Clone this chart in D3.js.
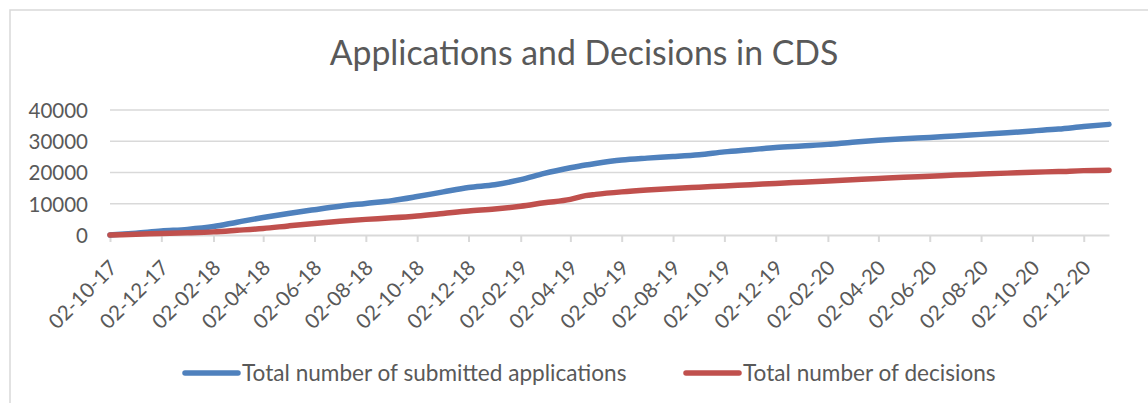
<!DOCTYPE html>
<html>
<head>
<meta charset="utf-8">
<script src="https://cdn.jsdelivr.net/npm/d3@7"></script>
<style>
  body { margin: 0; background: #fff; }
  text { font-family: Lato, "Open Sans", sans-serif; fill: #595959; }
</style>
</head>
<body>
<svg id="chart"></svg>
<script>
// data
const dates = [
  "2017-10-02", "2017-11-02", "2017-12-02", "2018-01-02", "2018-02-02", "2018-03-02",
  "2018-04-02", "2018-05-02", "2018-06-02", "2018-07-02", "2018-08-02", "2018-09-02",
  "2018-10-02", "2018-11-02", "2018-12-02", "2019-01-02", "2019-02-02", "2019-03-02",
  "2019-04-02", "2019-04-20", "2019-05-02", "2019-06-02", "2019-07-02", "2019-08-02",
  "2019-09-02", "2019-10-02", "2019-11-02", "2019-12-02", "2020-01-02", "2020-02-02",
  "2020-03-02", "2020-04-02", "2020-05-02", "2020-06-02", "2020-07-02", "2020-08-02",
  "2020-09-02", "2020-10-02", "2020-11-02", "2020-12-02", "2021-01-01"
];
const applications = [
  0, 600, 1300, 1800, 2700, 4100, 5600, 6900, 8100, 9200, 10100, 11000,
  12300, 13800, 15200, 16100, 17700, 19700, 21500, 22400, 22900, 24000, 24600, 25100,
  25700, 26600, 27300, 28000, 28500, 29000, 29700, 30300, 30800, 31200, 31700, 32200,
  32700, 33300, 33900, 34700, 35400
];
const decisions = [
  0, 250, 500, 700, 1000, 1500, 2100, 2900, 3700, 4400, 5000, 5500,
  6100, 6900, 7700, 8300, 9200, 10300, 11400, 12600, 13000, 13800, 14400, 14900,
  15300, 15700, 16100, 16500, 16900, 17300, 17700, 18100, 18500, 18800, 19200, 19500,
  19800, 20100, 20300, 20600, 20700
];
const tickLabels = [
  "02-10-17", "02-12-17", "02-02-18", "02-04-18", "02-06-18", "02-08-18", "02-10-18",
  "02-12-18", "02-02-19", "02-04-19", "02-06-19", "02-08-19", "02-10-19", "02-12-19",
  "02-02-20", "02-04-20", "02-06-20", "02-08-20", "02-10-20", "02-12-20"
];
const yTicks = [0, 10000, 20000, 30000, 40000];
const seriesNames = ["Total number of submitted applications", "Total number of decisions"];
const colors = ["#4F81BD", "#C0504D"];

const width = 1148, height = 403;
const margin = { left: 110, right: 39, top: 110, bottom: 168 };

const parseDate = d3.timeParse("%Y-%m-%d");
const parseTick = d3.timeParse("%d-%m-%y");

const svg = d3.select("#chart")
    .attr("width", width)
    .attr("height", height);

// outer frame of the chart area (cut off at right and bottom)
svg.append("rect")
    .attr("x", 10).attr("y", 10)
    .attr("width", 1200).attr("height", 500)
    .attr("fill", "none")
    .attr("stroke", "#D9D9D9")
    .attr("stroke-width", 1.5);

const xScale = d3.scaleTime()
    .domain([parseDate(dates[0]), parseDate(dates[dates.length - 1])])
    .range([margin.left, width - margin.right]);

const yScale = d3.scaleLinear()
    .domain([0, 40000])
    .range([height - margin.bottom, margin.top]);

// gridlines
svg.append("g")
    .selectAll("line")
    .data(yTicks.slice(1))
    .join("line")
        .attr("x1", margin.left)
        .attr("x2", width - margin.right)
        .attr("y1", d => yScale(d))
        .attr("y2", d => yScale(d))
        .attr("stroke", "#D9D9D9")
        .attr("stroke-width", 1.5);

// y axis labels
const yAxis = svg.append("g")
    .attr("transform", `translate(${margin.left}, 0)`)
    .call(d3.axisLeft(yScale).tickValues(yTicks).tickSize(0).tickPadding(22).tickFormat(d3.format("d")));
yAxis.select(".domain").remove();
yAxis.selectAll("text")
    .attr("font-size", 20.5)
    .attr("dy", "0.36em")
    .style("font-family", "Lato, sans-serif");

// x axis
const tickDates = tickLabels.map(parseTick);
const xAxis = svg.append("g")
    .attr("transform", `translate(0, ${yScale(0)})`)
    .call(d3.axisBottom(xScale)
        .tickValues(tickDates)
        .tickSize(7)
        .tickSizeOuter(0)
        .tickFormat((d, i) => tickLabels[i]));
xAxis.select(".domain")
    .attr("stroke", "#D9D9D9")
    .attr("stroke-width", 2);
xAxis.selectAll(".tick line")
    .attr("stroke", "#D9D9D9")
    .attr("stroke-width", 2);
xAxis.selectAll(".tick text")
    .attr("font-size", 20.5)
    .attr("text-anchor", "end")
    .attr("y", 0)
    .attr("dy", 0)
    .attr("transform", "translate(8, 34) rotate(-45)")
    .style("font-family", "Lato, sans-serif");

// lines
const line = d3.line()
    .x((d, i) => xScale(parseDate(dates[i])))
    .y(d => yScale(d))
    .curve(d3.curveMonotoneX);

[applications, decisions].forEach((values, k) => {
    svg.append("path")
        .datum(values)
        .attr("fill", "none")
        .attr("stroke", colors[k])
        .attr("stroke-width", 5.5)
        .attr("stroke-linecap", "round")
        .attr("stroke-linejoin", "round")
        .attr("d", line);
});

// title
svg.append("text")
    .attr("x", 584)
    .attr("y", 65)
    .attr("text-anchor", "middle")
    .attr("font-size", 33.8)
    .text("Applications and Decisions in CDS");

// legend
const legendX = [183, 684];
const legend = svg.append("g");
seriesNames.forEach((name, k) => {
    legend.append("line")
        .attr("x1", legendX[k] + 2)
        .attr("x2", legendX[k] + 55)
        .attr("y1", 373)
        .attr("y2", 373)
        .attr("stroke", colors[k])
        .attr("stroke-width", 5.5)
        .attr("stroke-linecap", "round");
    legend.append("text")
        .attr("x", legendX[k] + 59)
        .attr("y", 380.5)
        .attr("font-size", 22.6)
        .text(name);
});
</script>
</body>
</html>
